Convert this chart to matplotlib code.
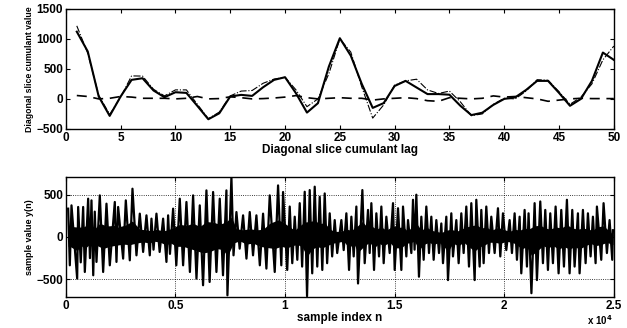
import numpy as np
import matplotlib
matplotlib.use("Agg")
import matplotlib.pyplot as plt
from matplotlib.ticker import FuncFormatter

plt.rcParams['font.family'] = ['Liberation Sans', 'DejaVu Sans']
plt.rcParams['font.weight'] = 'bold'

# --- top panel: diagonal slice cumulants, lags 1..50
lags = np.arange(1, 51)
cum_est = [1120, 790, 40, -283, 40, 317, 344, 140, 28, 111,
           100, -117, -339, -240, 40, 67, 50, 194, 317, 361,
           94, -228, -72, 539, 1011, 720, 250, -150, -70, 215,
           300, 190, 80, 80, 70, -115, -270, -230, -100, 0,
           25, 150, 300, 300, 100, -115, 0, 300, 772, 650]
cum_true = [1217, 760, 60, -260, 30, 383, 380, 160, 50, 150,
            150, -90, -330, -220, 50, 130, 140, 260, 330, 360,
            150, -130, 0, 420, 1000, 780, 200, -320, -100, 230,
            300, 328, 150, 90, 130, -50, -280, -250, -90, 10,
            0, 130, 320, 310, 120, -90, 30, 250, 650, 880]
cum_noise = [56, 40, 0, 10, 40, 30, 10, 10, 10, 0,
             10, 40, 0, 5, 35, 20, 0, 5, 15, 30,
             55, 20, 0, 10, 20, 10, 10, -20, 0, 10,
             20, 5, -30, -40, 20, 10, 0, 10, 50, 30,
             40, 20, 0, -40, -20, 0, 10, 5, 5, 5]

# --- bottom panel: signal y(n), local extremes
n_idx = [106, 182, 258, 517, 562, 680, 790, 866, 1018, 1100, 1170, 1250, 1320, 1398,
         1550, 1702, 1854, 2006, 2234, 2310, 2386, 2614, 2736, 2918, 3040, 3222, 3374,
         3526, 3678, 3830, 3906, 4000, 4134, 4280, 4438, 4590, 4666, 4750, 4894, 5040,
         5198, 5350, 5502, 5660, 5806, 5960, 6110, 6260, 6414, 6560, 6718, 6870, 7022,
         7170, 7326, 7372, 7554, 7650, 7782, 7930, 8086, 8240, 8390, 8540, 8694, 8850,
         8998, 9150, 9302, 9530, 9682, 9830, 9910,
         10100, 10214, 10330, 10442, 10560, 10670, 10780, 10898, 11004, 11126, 11240,
         11354, 11470, 11582, 11700, 11810, 11920, 12038, 12150, 12266, 12380,
         12570, 12676, 12798, 12920, 13026, 13132, 13254, 13330, 13528, 13634, 13786,
         13862, 13938, 14060, 14166, 14288, 14394, 14500, 14622, 14774, 14926, 15002,
         15154, 15306, 15382, 15534, 15610, 15762, 15838, 15910, 15990, 16110, 16218,
         16324, 16446, 16568, 16674, 16780, 16902, 17024, 17130, 17206, 17358, 17434,
         17586, 17662, 17814, 17920, 18042, 18148, 18270, 18392, 18498, 18650, 18726,
         18878, 18954, 19060, 19182, 19304, 19410, 19562, 19714, 19820, 19942, 20094,
         20246, 20352, 20474, 20580, 20702, 20778, 20930, 21036, 21110, 21240, 21386,
         21492, 21644, 21766, 21872, 21994, 22100, 22222, 22344, 22480, 22602, 22724,
         22860, 22982, 23104, 23210, 23362, 23438, 23590, 23712, 23818, 23940, 24046,
         24168, 24228, 24426, 24532, 24684, 24806, 24928, 24958]
y_val = [335, -335, 374, -492, 355, -300, 355, -414, 453, -250, 433, -453, 300, -295,
         492, -414, 394, -335, 414, -295, 355, -256, 433, -276, 571, -217, 276,
         -177, 256, -217, 217, -150, 276, -177, 217, -295, 256, -200, 335, -335,
         453, -335, 414, -414, 492, -492, 374, -571, 551, -532, 532, -414, 453,
         -453, 551, -690, 709, -217, 295, -138, 256, -256, 295, -217, 256, -335,
         276, -374, 492, -414, 610, -335, 532,
         -390, 360, -310, 240, -270, 400, -350, 535, -700, 555, -430,
         595, -350, 475, -390, 515, -310, 280, -230, 200, -190,
         200, -155, 280, -390, 240, -230, 360, -550, 555, -310, 320,
         -190, 400, -390, 280, -230, 360, -310, 240, -190, 400, -390,
         340, -390, 360, -230, 200, -190, 440, -150, 500, -470, 240,
         -270, 360, -190, 240, -270, 200, -190, 160, -310, 240, -510,
         280, -230, 200, -310, 280, -190, 360, -350, 400, -510, 440,
         -350, 320, -310, 360, -190, 240, -190, 340, -230, 280, -155,
         200, -190, 280, -270, 240, -430, 320, -350, 280, -665, 400,
         -510, 420, -310, 320, -390, 280, -310, 360, -430, 320, -350,
         440, -430, 320, -350, 280, -430, 320, -310, 280, -230, 240,
         -310, 360, -270, 400, -190, 200, -270, 80]

fig = plt.figure(figsize=(6.27, 3.28), dpi=100)

ax1 = fig.add_axes([0.105, 0.607, 0.874, 0.366])
ax1.plot(lags, cum_true, color='black', lw=0.8, ls='-.')
ax1.plot(lags, cum_est, color='black', lw=1.5, ls='-')
ax1.plot(lags, cum_noise, color='black', lw=1.2, ls=(0, (6, 4)))
ax1.set_xlim(0, 50)
ax1.set_ylim(-500, 1500)
ax1.set_xticks(np.arange(0, 51, 5))
ax1.set_yticks([-500, 0, 500, 1000, 1500])
ax1.set_xlabel("Diagonal slice cumulant lag", fontsize=8.5, fontweight='bold', labelpad=0)
ax1.set_ylabel("Diagonal slice cumulant value", fontsize=6.3, fontweight='bold', labelpad=2)

ax2 = fig.add_axes([0.105, 0.0945, 0.874, 0.366])
n_arr = np.array(n_idx, dtype=float)
y_arr = np.array(y_val, dtype=float)
# dense core of the trace: a fraction of the upper / lower envelopes
up = y_arr > 0
upper = np.interp(n_arr, n_arr[up], y_arr[up])
lower = np.interp(n_arr, n_arr[~up], y_arr[~up])
ax2.fill_between(n_arr, 0.33 * lower, 0.33 * upper, color='black', lw=0)
ax2.plot(n_arr, y_arr, color='black', lw=1.6)
ax2.set_xlim(0, 25000)
ax2.set_ylim(-710, 710)
ax2.set_xticks(np.arange(0, 25001, 5000))
ax2.set_yticks([-500, 0, 500])
ax2.xaxis.set_major_formatter(FuncFormatter(lambda v, p: "%g" % (v / 1e4)))
ax2.grid(True, ls=':', color='black', lw=0.6)
ax2.set_xlabel("sample index n", fontsize=8.5, fontweight='bold', labelpad=0)
ax2.set_ylabel("sample value y(n)", fontsize=6.5, fontweight='bold', labelpad=2)
ax2.text(0.975, -0.19, r"x 10$^{4}$", transform=ax2.transAxes, fontsize=7,
         fontweight='bold', ha='center', va='center')

for ax in (ax1, ax2):
    ax.tick_params(direction='in', top=True, right=True, length=3, width=0.8,
                   labelsize=8.5, pad=2)
    for lab in ax.get_xticklabels() + ax.get_yticklabels():
        lab.set_fontweight('bold')
    for sp in ax.spines.values():
        sp.set_linewidth(1.0)

fig.savefig("out.png", dpi=100)
